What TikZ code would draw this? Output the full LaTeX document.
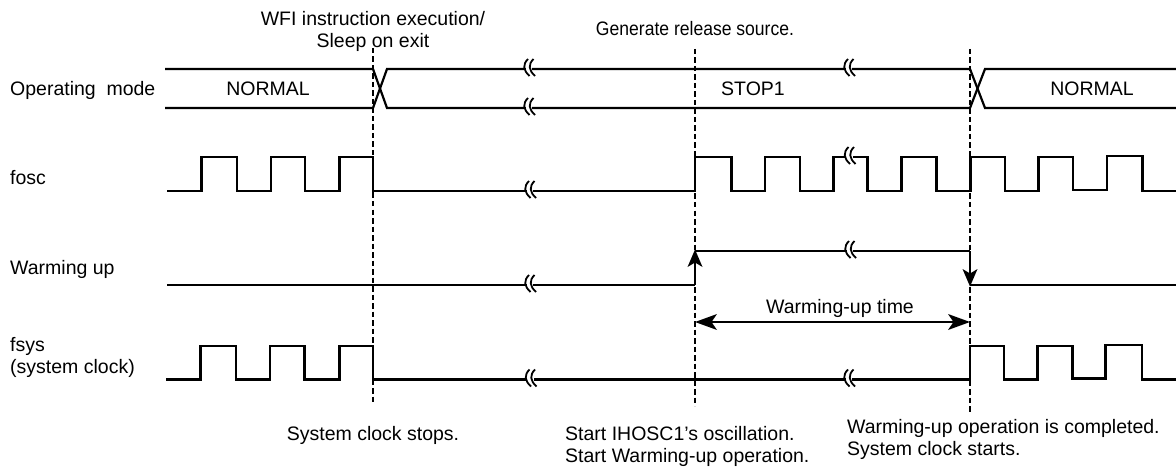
\documentclass[tikz,border=0pt]{standalone}
\usepackage{fontspec}
\setmainfont{Liberation Sans}
\usetikzlibrary{arrows.meta}
\begin{document}
\begin{tikzpicture}[x=1pt,y=-1pt,
  sig/.style={line width=2.2pt, line join=miter},
  guide/.style={line width=2.4pt, dash pattern=on 5.5pt off 3pt},
  lbl/.style={inner sep=0pt, font=\fontsize{19.5}{22}\selectfont},
  head/.style={fill=black},
  brk/.pic={
    \fill[white] (-4.5,-2.8) rectangle (2,2.8);
    \draw[line width=1.8pt] (-2,-10) .. controls (-7.5,-4.5) and (-7,1) .. (-0.5,7);
    \draw[line width=1.8pt] (3.5,-10) .. controls (-2,-4.5) and (-1.5,1) .. (5,7);
  }]
\useasboundingbox (0,0) rectangle (1176,468);

% guide lines
\draw[guide] (373,48) -- (373,403);
\draw[guide] (695,49) -- (695,406);
\draw[guide] (970,49) -- (970,414);

% operating mode
\draw[sig] (165,69) -- (373,69) -- (387,108) -- (970,108) -- (985,69) -- (1176,69);
\draw[sig] (165,108) -- (373,108) -- (387,69) -- (970,69) -- (985,108) -- (1176,108);
\pic at (530,69) {brk};
\pic at (530,108) {brk};
\pic at (850,69) {brk};

% fosc
\draw[sig] (167,191) -- (201.5,191) -- (201.5,157) -- (237,157) -- (237,191) -- (271,191) -- (271,157) -- (305,157) -- (305,191) -- (339.5,191) -- (339.5,157) -- (373,157) -- (373,191) -- (695,191) -- (695,157) -- (731.5,157) -- (731.5,191) -- (765,191) -- (765,157) -- (800,157) -- (800,191) -- (833.5,191) -- (833.5,157) -- (867.5,157) -- (867.5,191) -- (901.5,191) -- (901.5,157) -- (936.5,157) -- (936.5,191) -- (970.5,191) -- (970.5,157) -- (1005,157) -- (1005,191) -- (1038.5,191) -- (1038.5,157) -- (1073,157) -- (1073,190) -- (1107,190) -- (1107,156) -- (1142.5,156) -- (1142.5,191) -- (1176,191);
\pic at (531,191) {brk};
\pic at (850.5,157) {brk};

% warming up
\draw[sig] (167,285) -- (695,285);
\draw[sig] (695,251) -- (970,251);
\draw[sig] (970,285) -- (1176,285);
\draw[sig] (695,285) -- (695,262);
\fill[head] (695,249.5) -- (702.5,267) -- (695,262.5) -- (687.5,267) -- cycle;
\draw[sig] (970,251) -- (970,274);
\fill[head] (970,286.5) -- (977.5,269) -- (970,273.5) -- (962.5,269) -- cycle;
\pic at (531,285) {brk};
\pic at (851,251) {brk};
\draw[sig] (710,322) -- (955,322);
\fill[head] (695,322) -- (717,314) -- (711.5,322) -- (717,330) -- cycle;
\fill[head] (970,322) -- (948,314) -- (953.5,322) -- (948,330) -- cycle;

% fsys
\draw[sig] (166,379.5) -- (200.5,379.5) -- (200.5,346) -- (236,346) -- (236,379.5) -- (270,379.5) -- (270,346) -- (304.5,346) -- (304.5,379.5) -- (339.5,379.5) -- (339.5,346) -- (373,346) -- (373,379.5) -- (970,379.5) -- (970,346) -- (1004,346) -- (1004,379.5) -- (1037.5,379.5) -- (1037.5,346) -- (1072.5,346) -- (1072.5,378.5) -- (1105.5,378.5) -- (1105.5,345) -- (1142,345) -- (1142,379.5) -- (1176,379.5);
\pic at (531.5,379.5) {brk};
\pic at (850,379.5) {brk};

% labels
\node[lbl,anchor=base west] (opm) at (10,95.5) {Operating\hspace{0.55em}mode};
\node[lbl,anchor=base] (nrm1) at (268,95.5) {NORMAL};
\node[lbl,anchor=base] (stp) at (753,95.5) {STOP1};
\node[lbl,anchor=base] (nrm2) at (1092,95.5) {NORMAL};
\node[lbl,anchor=base west] (fos) at (10,185) {fosc};
\node[lbl,anchor=base west] (wup) at (10,274.5) {Warming up};
\node[lbl,anchor=base west] (fsy) at (10,351) {fsys};
\node[lbl,anchor=base west] (sck) at (10,373) {(system clock)};
\node[lbl,anchor=base] (wfi) at (373,25.7) {WFI instruction execution/};
\node[lbl,anchor=base] (sle) at (373,47.5) {Sleep on exit};
\node[lbl,anchor=base] (gen) at (695,36) {\scalebox{0.9}[1]{Generate release source.}};
\node[lbl,anchor=base] (wut) at (840,313) {Warming-up time};
\node[lbl,anchor=base] (scs) at (373,440) {System clock stops.};
\node[lbl,anchor=base west] (sio) at (565,440) {Start IHOSC1's oscillation.};
\node[lbl,anchor=base west] (swo) at (565,462) {Start Warming-up operation.};
\node[lbl,anchor=base west] (woc) at (847,433) {Warming-up operation is completed.};
\node[lbl,anchor=base west] (scst) at (847,455) {System clock starts.};
\end{tikzpicture}
\end{document}
